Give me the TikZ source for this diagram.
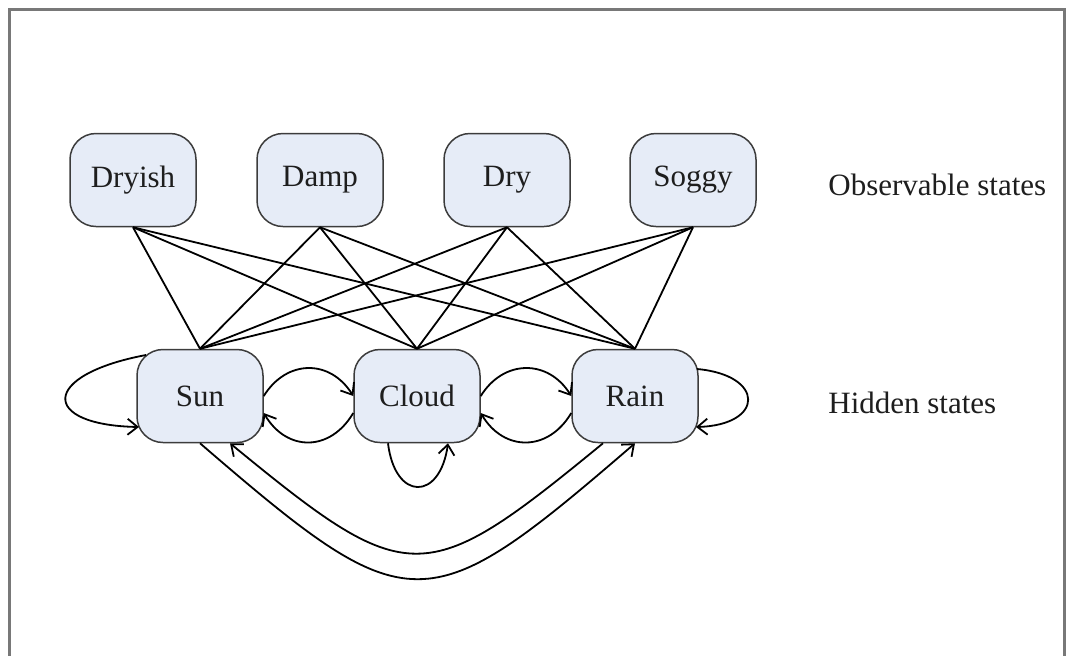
\documentclass[tikz,border=0pt]{standalone}
\usepackage{fontspec}
\setmainfont{Liberation Serif}
\usetikzlibrary{arrows.meta,calc}
\definecolor{boxfill}{RGB}{230,236,247}
\definecolor{boxdraw}{RGB}{60,60,60}
\definecolor{framec}{RGB}{120,120,120}
\definecolor{txt}{RGB}{30,30,30}
\begin{document}
\begin{tikzpicture}[x=0.5pt,y=-0.5pt,
  state/.style={draw=boxdraw, line width=0.75pt, fill=boxfill, rounded corners=13pt,
    minimum width=63pt, minimum height=46.5pt, inner sep=0pt,
    font=\fontsize{15.5}{18}\selectfont, text=txt},
  link/.style={line width=0.9pt, black},
  arr/.style={link, -{Straight Barb[length=5pt,width=8pt]}},
  lab/.style={anchor=west, inner sep=0pt, font=\fontsize{15.5}{18}\selectfont, text=txt}]
\useasboundingbox (0,0) rectangle (1066,655);
\draw[framec, line width=1.5pt] (9,660) -- (9,9) -- (1064,9) -- (1064,660);

\node[state] (dryish) at (133,180) {Dryish};
\node[state] (damp)   at (320,180) {Damp};
\node[state] (dry)    at (507,180) {Dry};
\node[state] (soggy)  at (693,180) {Soggy};
\node[state] (sun)    at (200,396) {Sun};
\node[state] (cloud)  at (417,396) {Cloud};
\node[state] (rain)   at (635,396) {Rain};

\node[lab] (obs) at (828,185) {Observable states};
\node[lab] (hid) at (828,403) {Hidden states};

\foreach \o in {dryish,damp,dry,soggy}
  \foreach \h in {sun,cloud,rain}
    \draw[link] (\o.south) -- (\h.north);

% self loops
\draw[arr] ($(sun)+(-54,-41)$) .. controls ($(sun)+(-160,-21)$) and ($(sun)+(-160,29)$) .. ($(sun)+(-61,31)$);
\draw[arr] ($(rain)+(62,-27)$) .. controls ($(rain)+(130,-21)$) and ($(rain)+(130,29)$) .. ($(rain)+(61,31)$);
\draw[arr] ($(cloud.south)+(-29,0)$) .. controls ($(cloud.south)+(-22,58)$) and ($(cloud.south)+(23,58)$) .. ($(cloud.south)+(31,0)$);

% neighbours
\draw[arr] (sun.east) .. controls ($(sun.east)+(23,-37)$) and ($(cloud.west)+(-23,-37)$) .. (cloud.west);
\draw[arr] ($(cloud.west)+(0,17)$) .. controls ($(cloud.west)+(-23,56)$) and ($(sun.east)+(23,56)$) .. ($(sun.east)+(0,17)$);
\draw[arr] (cloud.east) .. controls ($(cloud.east)+(23,-37)$) and ($(rain.west)+(-23,-37)$) .. (rain.west);
\draw[arr] ($(rain.west)+(0,17)$) .. controls ($(rain.west)+(-23,56)$) and ($(cloud.east)+(23,56)$) .. ($(cloud.east)+(0,17)$);

% long arcs
\draw[arr] (sun.south) .. controls ($(sun.south)+(210,181)$) and ($(rain.south)+(-210,181)$) .. (rain.south);
\draw[arr] ($(rain.south)+(-32,0)$) .. controls ($(rain.south)+(-211,147)$) and ($(sun.south)+(209,147)$) .. ($(sun.south)+(30,0)$);
\end{tikzpicture}
\end{document}
